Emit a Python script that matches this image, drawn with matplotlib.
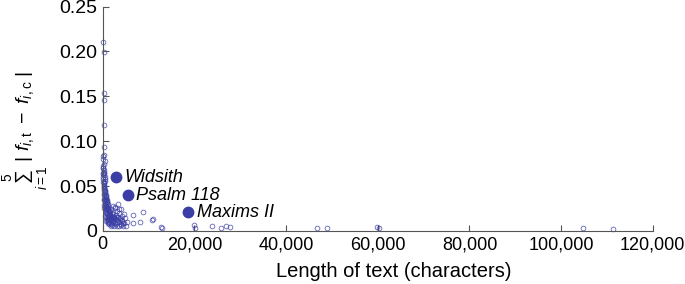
import numpy as np
import matplotlib
matplotlib.use("Agg")
import matplotlib.pyplot as plt
from matplotlib.ticker import FuncFormatter

plt.rcParams["font.family"] = ["Liberation Sans", "DejaVu Sans"]
plt.rcParams["mathtext.fontset"] = "custom"
plt.rcParams["mathtext.rm"] = "Liberation Sans"
plt.rcParams["mathtext.it"] = "Liberation Sans:italic"

# texts, length in characters vs summed frequency difference
textLength = [
    150, 200, 250, 180, 300, 220, 350, 120, 400, 260,
    100, 150, 200, 250, 300, 350, 400, 450, 500, 180,
    220, 280, 320, 380, 420, 480, 520, 560, 600, 650,
    700, 750, 800, 850, 900, 950, 1000, 300, 500, 700,
    120, 160, 240, 340, 440, 540, 640, 740, 840, 940,
    1050, 1100, 1150, 1200, 1250, 1300, 1350, 1400, 1450, 1500,
    1100, 1200, 1300, 1400, 1500, 1600, 1700, 1800, 1900, 2000,
    1600, 1700, 1800, 1900, 2000, 2100, 2200, 2300, 2400, 2500,
    2100, 2200, 2300, 2400, 2600, 2700, 2800, 2900, 3000, 3100,
    2600, 2800, 3000, 3200, 3400, 3600, 3800, 4000, 4200, 4400,
    3300, 3500, 3700, 3900, 4100, 4300, 4500, 4700, 3200, 3600,
    600, 800, 1000, 1200, 1400, 900, 1100, 1300, 700, 500,
    4800, 5000, 5200, 3500, 2500, 1900, 4600, 4000, 2700, 2300,
    6500, 6600, 8100, 8700, 10700, 10900, 12800, 13000, 20000, 20100,
    23800, 25700, 26800, 27700, 46700, 48900, 59800, 60200, 104700, 111300,
    120, 140, 160, 200, 250, 300, 180, 230, 90, 110,
    400, 600, 800, 1000, 1200, 700, 900, 1100, 500, 300,
]
diffSum = [
    0.210, 0.199, 0.154, 0.146, 0.118, 0.094, 0.085, 0.083, 0.078, 0.075,
    0.072, 0.070, 0.068, 0.066, 0.064, 0.062, 0.060, 0.058, 0.056, 0.055,
    0.053, 0.051, 0.050, 0.048, 0.046, 0.045, 0.043, 0.042, 0.040, 0.039,
    0.038, 0.036, 0.035, 0.034, 0.033, 0.032, 0.031, 0.044, 0.038, 0.030,
    0.063, 0.058, 0.049, 0.041, 0.036, 0.033, 0.028, 0.027, 0.025, 0.024,
    0.030, 0.028, 0.026, 0.025, 0.024, 0.022, 0.021, 0.020, 0.019, 0.018,
    0.015, 0.012, 0.017, 0.010, 0.014, 0.019, 0.016, 0.013, 0.011, 0.015,
    0.022, 0.009, 0.024, 0.008, 0.020, 0.012, 0.017, 0.010, 0.014, 0.011,
    0.007, 0.019, 0.013, 0.016, 0.009, 0.014, 0.012, 0.018, 0.010, 0.015,
    0.027, 0.008, 0.022, 0.012, 0.016, 0.010, 0.014, 0.007, 0.012, 0.009,
    0.030, 0.020, 0.013, 0.008, 0.017, 0.011, 0.006, 0.009, 0.005, 0.024,
    0.026, 0.022, 0.020, 0.016, 0.013, 0.012, 0.009, 0.008, 0.011, 0.017,
    0.014, 0.006, 0.010, 0.005, 0.006, 0.005, 0.019, 0.024, 0.026, 0.028,
    0.018, 0.009, 0.010, 0.021, 0.012, 0.013, 0.004, 0.003, 0.007, 0.003,
    0.0056, 0.0033, 0.0056, 0.0045, 0.0033, 0.0035, 0.0040, 0.0030, 0.0035, 0.0018,
    0.065, 0.060, 0.055, 0.047, 0.040, 0.034, 0.029, 0.026, 0.080, 0.070,
    0.028, 0.020, 0.016, 0.014, 0.010, 0.023, 0.019, 0.012, 0.031, 0.036,
]

namedTexts = ["Widsith", "Psalm 118", "Maxims II"]
namedLength = [2850, 5450, 18700]
namedDiff = [0.060, 0.040, 0.021]

xTicks = [0, 20000, 40000, 60000, 80000, 100000, 120000]
yTicks = [0, 0.05, 0.10, 0.15, 0.20, 0.25]
yTickLabels = ["0", "0.05", "0.10", "0.15", "0.20", "0.25"]

pointColor = "#3b3fa5"
axisColor = "#555555"

fig = plt.figure(figsize=(6.85, 2.84), dpi=100)
ax = fig.add_axes([0.150, 0.187, 0.803, 0.790])

ax.plot(textLength, diffSum, "o", markersize=3.4, markerfacecolor="none",
        markeredgecolor=pointColor, markeredgewidth=0.6, alpha=0.8, clip_on=False)
ax.plot(namedLength, namedDiff, "o", markersize=7.5, color=pointColor, clip_on=False)
for name, x, y in zip(namedTexts, namedLength, namedDiff):
    ax.annotate(name, (x, y), xytext=(6, -0.5), textcoords="offset points",
                fontsize=13, style="italic", va="center", ha="left")

ax.set_xlim(0, 120000)
ax.set_ylim(0, 0.25)
ax.set_xticks(xTicks)
ax.xaxis.set_major_formatter(FuncFormatter(lambda v, p: "{:,}".format(int(v))))
ax.set_yticks(yTicks)
ax.set_yticklabels(yTickLabels)

for side in ["top", "right"]:
    ax.spines[side].set_visible(False)
for side in ["left", "bottom"]:
    ax.spines[side].set_color(axisColor)
    ax.spines[side].set_linewidth(0.8)
ax.tick_params(direction="in", length=4, width=0.8, color=axisColor,
               labelsize=13)
ax.tick_params(axis="x", pad=4)
ax.tick_params(axis="y", pad=4, labelsize=14)

ax.set_xlabel("Length of text (characters)", fontsize=14.5)
ax.xaxis.set_label_coords(0.529, -0.140)
ax.set_ylabel(r"$\sum_{i=1}^{5}\ |\ f_{i,\mathrm{t}}\ -\ f_{i,\mathrm{c}}\ |$",
              fontsize=14)
ax.yaxis.set_label_coords(-0.094, 0.446)

plt.savefig("out.png", dpi=100)
